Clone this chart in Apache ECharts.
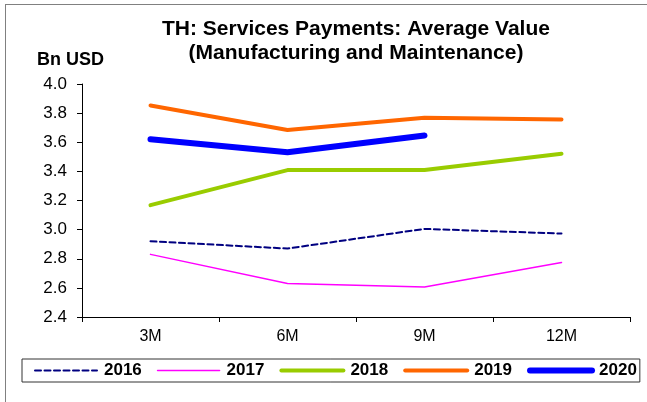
<!DOCTYPE html>
<html>
<head>
<meta charset="utf-8">
<script src="https://cdn.jsdelivr.net/npm/echarts@6/dist/echarts.min.js"></script>
<style>
  html, body { margin: 0; padding: 0; background: #fff; }
  #chart { width: 647px; height: 402px; }
</style>
</head>
<body>
<div id="chart"></div>
<script>
// Quarterly-cumulative average value of services payments, Bn USD
const periods = ['3M', '6M', '9M', '12M'];
const years = ['2016', '2017', '2018', '2019', '2020'];
const values2016 = [2.92, 2.87, 3.005, 2.973];
const values2017 = [2.83, 2.63, 2.606, 2.774];
const values2018 = [3.168, 3.409, 3.409, 3.521];
const values2019 = [3.853, 3.684, 3.768, 3.757];
const values2020 = [3.62, 3.532, 3.647];
const yTicks = { min: 2.4, max: 4.0, step: 0.2 };

const FONT = '"Liberation Sans", Arial, sans-serif';

const styles = {
  '2016': { color: '#000080', width: 2, type: [6, 3.5] },
  '2017': { color: '#FF00FF', width: 1.5, type: 'solid' },
  '2018': { color: '#99CC00', width: 4, type: 'solid' },
  '2019': { color: '#FF6600', width: 4, type: 'solid' },
  '2020': { color: '#0000FF', width: 6, type: 'solid' }
};
const dataByYear = {
  '2016': values2016, '2017': values2017, '2018': values2018,
  '2019': values2019, '2020': values2020
};

function lineStyleOf(y) {
  return {
    color: styles[y].color,
    width: styles[y].width,
    type: styles[y].type,
    cap: 'round',
    join: 'round'
  };
}

const series = years.map((y, i) => ({
  name: y,
  type: 'line',
  data: dataByYear[y],
  symbol: 'none',
  animation: false,
  itemStyle: { color: styles[y].color },
  lineStyle: lineStyleOf(y),
  z: 2 + i
}));

const legendItems = years.map(y => ({
  name: y,
  itemStyle: { opacity: 0 },
  lineStyle: lineStyleOf(y)
}));

const chart = echarts.init(document.getElementById('chart'), null, { renderer: 'canvas' });
chart.setOption({
  backgroundColor: '#fff',
  animation: false,
  title: {
    text: 'TH: Services Payments: Average Value\n(Manufacturing and Maintenance)',
    left: 351,
    textAlign: 'center',
    top: 12,
    textStyle: { fontFamily: FONT, fontSize: 21, fontWeight: 'bold', color: '#000', lineHeight: 24 }
  },
  graphic: [
    { type: 'line', shape: { x1: 5, y1: 4.5, x2: 647, y2: 4.5 }, style: { stroke: '#808080', lineWidth: 1 } },
    { type: 'line', shape: { x1: 5.5, y1: 4, x2: 5.5, y2: 402 }, style: { stroke: '#808080', lineWidth: 1 } },
    { type: 'text', left: 37, top: 51, style: { text: 'Bn USD', fontFamily: FONT, fontSize: 18, fontWeight: 'bold', fill: '#000' } }
  ],
  legend: {
    data: legendItems,
    left: 22,
    top: 359,
    width: 640,
    orient: 'horizontal',
    padding: [3, 3, 3, 12],
    itemGap: 15,
    itemWidth: 62,
    itemHeight: 18,
    borderColor: '#333',
    borderWidth: 1,
    borderRadius: 0,
    selectedMode: false,
    textStyle: { fontFamily: FONT, fontSize: 17, fontWeight: 'bold', color: '#000', padding: [0, 0, 0, 2] }
  },
  grid: { left: 82, right: 17, top: 84, bottom: 85, containLabel: false },
  xAxis: {
    type: 'category',
    data: periods,
    boundaryGap: true,
    axisLine: { lineStyle: { color: '#000', width: 1 } },
    axisTick: { show: true, length: 5, lineStyle: { color: '#000' } },
    axisLabel: { fontFamily: FONT, fontSize: 16, color: '#000', margin: 12 },
    splitLine: { show: false }
  },
  yAxis: {
    type: 'value',
    min: yTicks.min,
    max: yTicks.max,
    interval: yTicks.step,
    axisLine: { show: true, lineStyle: { color: '#000', width: 1 } },
    axisTick: { show: true, length: 5, lineStyle: { color: '#000' } },
    axisLabel: {
      fontFamily: FONT, fontSize: 17, color: '#000', margin: 15,
      formatter: v => v.toFixed(1)
    },
    splitLine: { show: false }
  },
  series: series
});
</script>
</body>
</html>
